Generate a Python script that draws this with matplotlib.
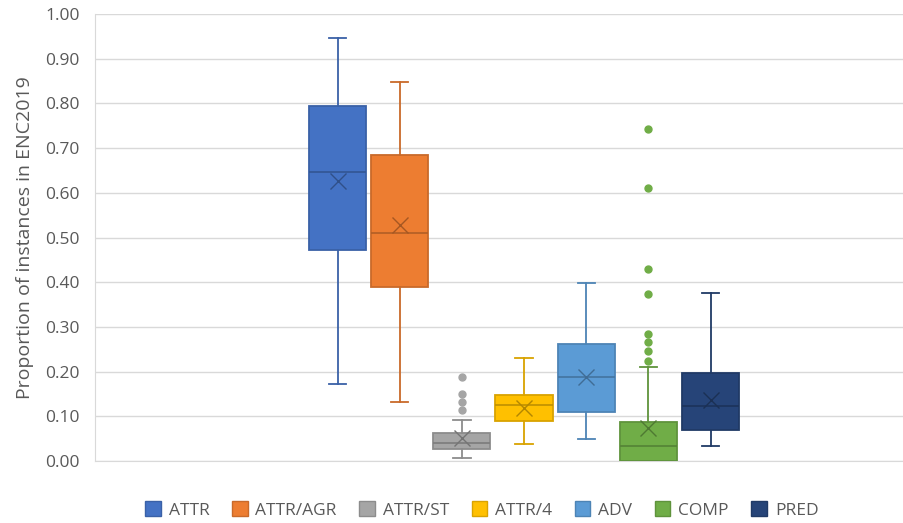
import numpy as np
import matplotlib
matplotlib.use("Agg")
import matplotlib.pyplot as plt
from matplotlib.patches import Patch
import matplotlib.colors as mcolors

plt.rcParams["font.family"] = ["Open Sans", "DejaVu Sans"]

labels   = ["ATTR", "ATTR/AGR", "ATTR/ST", "ATTR/4", "ADV", "COMP", "PRED"]
whislo   = [0.172, 0.132, 0.007, 0.038, 0.049, 0.000, 0.034]
q1       = [0.472, 0.389, 0.027, 0.090, 0.110, 0.000, 0.069]
medians  = [0.647, 0.510, 0.040, 0.125, 0.188, 0.034, 0.123]
q3       = [0.794, 0.685, 0.063, 0.148, 0.262, 0.087, 0.197]
whishi   = [0.946, 0.848, 0.092, 0.230, 0.398, 0.210, 0.376]
means    = [0.626, 0.528, 0.051, 0.119, 0.188, 0.074, 0.137]
outliers = [[], [], [0.188, 0.150, 0.132, 0.114], [], [],
            [0.743, 0.611, 0.430, 0.374, 0.284, 0.266, 0.246, 0.224], []]

colors = ["#4472C4", "#ED7D31", "#A5A5A5", "#FFC000", "#5B9BD5", "#70AD47", "#264478"]


def darker(c, f=0.8):
    r, g, b = mcolors.to_rgb(c)
    return (r * f, g * f, b * f)


fig = plt.figure(figsize=(9.04, 5.23), dpi=100)
ax = fig.add_axes([95 / 904, 1 - 461 / 523, 1 - 95 / 904, (461 - 14) / 523])

for i in range(len(labels)):
    st = dict(med=medians[i], q1=q1[i], q3=q3[i], whislo=whislo[i], whishi=whishi[i],
              mean=means[i], fliers=outliers[i], label=labels[i])
    c = colors[i]
    dc = darker(c, 0.85)
    ax.bxp([st], positions=[i], widths=0.92, patch_artist=True,
           showmeans=True, showfliers=True,
           boxprops=dict(facecolor=c, edgecolor=dc, linewidth=1.3),
           medianprops=dict(color=darker(c, 0.75), linewidth=1.2),
           whiskerprops=dict(color=dc, linewidth=1.3),
           capprops=dict(color=dc, linewidth=1.3),
           capwidths=0.28,
           meanprops=dict(marker="x", markeredgecolor=darker(c, 0.7), markersize=11,
                          markeredgewidth=1.0),
           flierprops=dict(marker="o", markerfacecolor=c, markeredgecolor=c, markersize=5),
           zorder=3)

# group of seven boxes sits right of centre, the chart is cut on the right
ax.set_xlim(-3.9, 9.11)
ax.set_ylim(0, 1.0)
ax.set_yticks(np.arange(0, 1.01, 0.1))
ax.set_yticklabels(["%.2f" % v for v in np.arange(0, 1.01, 0.1)])
ax.set_xticks([])
ax.grid(axis="y", color="#D9D9D9", linewidth=1.0, zorder=0)
ax.set_axisbelow(True)
for s in ["top", "right"]:
    ax.spines[s].set_visible(False)
ax.spines["left"].set_color("#D9D9D9")
ax.spines["bottom"].set_color("#D9D9D9")
ax.tick_params(axis="y", length=0, pad=11, labelsize=12.5, labelcolor="#595959")
ax.set_ylabel("Proportion of instances in ENC2019", fontsize=14, color="#595959", labelpad=8)

handles = [Patch(facecolor=colors[i], edgecolor=darker(colors[i], 0.85), label=labels[i])
           for i in range(len(labels))]
fig.legend(handles=handles, loc="center", bbox_to_anchor=(0.533, 0.025), ncol=7,
           frameon=False, fontsize=12.5, handlelength=0.9, handleheight=0.9,
           handletextpad=0.45, columnspacing=1.3, labelcolor="#595959")

fig.savefig("out.png", dpi=100)
